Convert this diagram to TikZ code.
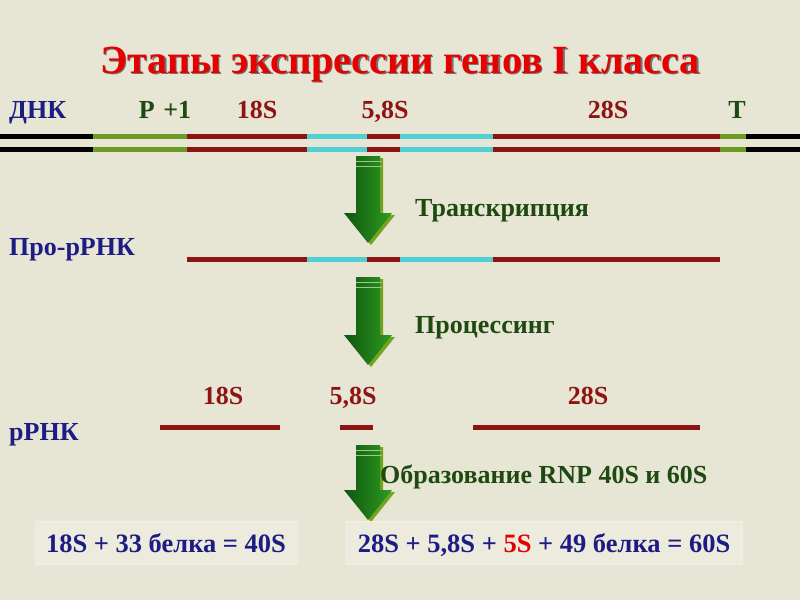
\documentclass[tikz,border=0pt]{standalone}
\usepackage{fontspec}
\setmainfont{Liberation Serif}
\definecolor{bg}{HTML}{E7E5D3}
\definecolor{boxbg}{HTML}{ECEBDD}
\definecolor{titlered}{HTML}{E60000}
\definecolor{navy}{HTML}{1C1C84}
\definecolor{dkred}{HTML}{8E1414}
\definecolor{dnagreen}{HTML}{6E9A26}
\definecolor{dnacyan}{HTML}{52CFD2}
\definecolor{lblgreen}{HTML}{1E4A12}
\definecolor{arrdark}{HTML}{0E560E}
\definecolor{arrlight}{HTML}{2F9C22}
\definecolor{arrshadow}{HTML}{74A41E}
\tikzset{
  lbl/.style={font=\bfseries\fontsize{26}{28}\selectfont, inner sep=0pt},
  blue lbl/.style={lbl, text=navy},
  red lbl/.style={lbl, text=dkred},
  green lbl/.style={lbl, text=lblgreen},
  seg/.style={line width=5pt},
  eqbox/.style={draw=boxbg!80!white, fill=boxbg, line width=1pt, minimum height=43pt, inner sep=0pt},
  eqtext/.style={font=\bfseries\fontsize{26.5}{28}\selectfont, text=navy, inner sep=0pt, anchor=base},
}
\newcommand\garrow[3]{%
  \fill[arrshadow] (#1+3,#2+2) -- (#1+15,#2+2) -- (#1+15,#3-28) -- (#1+27,#3-28) -- (#1+3,#3+2) -- (#1-21,#3-28) -- (#1-9,#3-28) -- cycle;
  \shade[left color=arrdark, right color=arrlight] (#1-12,#2) -- (#1+12,#2) -- (#1+12,#3-30) -- (#1+24,#3-30) -- (#1,#3) -- (#1-24,#3-30) -- (#1-12,#3-30) -- cycle;
  \draw[bg!60!arrlight, line width=1pt] (#1-12,#2+5) -- (#1+14,#2+5) (#1-12,#2+10) -- (#1+14,#2+10);
}
\begin{document}
\begin{tikzpicture}[x=1pt,y=-1pt]
\useasboundingbox (0,0) rectangle (800,600);
\fill[bg] (0,0) rectangle (800,600);
% title
\node[font=\bfseries\fontsize{40}{44}\selectfont, text=black!55, inner sep=0pt, anchor=base] at (401.5,74.5) {Этапы экспрессии генов I класса};
\node[font=\bfseries\fontsize{40}{44}\selectfont, text=titlered, inner sep=0pt, anchor=base] (title) at (400,73) {Этапы экспрессии генов I класса};
% DNA labels
\node[blue lbl, anchor=base west] (dnk) at (9,118) {ДНК};
\node[green lbl, anchor=base] (p1) at (165,118) {P\,\,+1};
\node[red lbl, anchor=base] (l18) at (257,118) {18S};
\node[red lbl, anchor=base] (l58) at (385,118) {5,8S};
\node[red lbl, anchor=base] (l28) at (608,118) {28S};
\node[green lbl, anchor=base] (lt) at (737,118) {T};
% DNA strands
\foreach \yy in {136,149}{
  \draw[seg, black] (0,\yy) -- (93,\yy);
  \draw[seg, dnagreen] (93,\yy) -- (187,\yy);
  \draw[seg, dkred] (187,\yy) -- (307,\yy);
  \draw[seg, dnacyan] (307,\yy) -- (367,\yy);
  \draw[seg, dkred] (367,\yy) -- (400,\yy);
  \draw[seg, dnacyan] (400,\yy) -- (493,\yy);
  \draw[seg, dkred] (493,\yy) -- (720,\yy);
  \draw[seg, dnagreen] (720,\yy) -- (746,\yy);
  \draw[seg, black] (746,\yy) -- (800,\yy);
}
% arrow 1
\garrow{368}{156}{243}
\node[green lbl, anchor=base west] (tr) at (415,216) {Транскрипция};
% pro-rRNA
\node[blue lbl, anchor=base west] (pro) at (9,255) {Про-рРНК};
\draw[seg, dkred] (187,259) -- (307,259);
\draw[seg, dnacyan] (307,259) -- (367,259);
\draw[seg, dkred] (367,259) -- (400,259);
\draw[seg, dnacyan] (400,259) -- (493,259);
\draw[seg, dkred] (493,259) -- (720,259);
% arrow 2
\garrow{368}{277}{365}
\node[green lbl, anchor=base west] (proc) at (415,333) {Процессинг};
% rRNA
\node[red lbl, anchor=base] (m18) at (223,404) {18S};
\node[red lbl, anchor=base] (m58) at (353,404) {5,8S};
\node[red lbl, anchor=base] (m28) at (588,404) {28S};
\node[blue lbl, anchor=base west] (rrna) at (9,440) {рРНК};
\draw[seg, dkred] (160,427) -- (280,427);
\draw[seg, dkred] (340,427) -- (373,427);
\draw[seg, dkred] (473,427) -- (700,427);
% arrow 3
\garrow{368}{445}{520}
\node[green lbl, anchor=base west] (rnp) at (380,483) {Образование RNP 40S и 60S};
% boxes
\node[eqbox, minimum width=262pt] (b1) at (166,543) {};
\node[eqbox, minimum width=396pt] (b2) at (544,543) {};
\node[eqtext] (t1) at (166,552) {18S + 33 белка = 40S};
\node[eqtext] (t2) at (544,552) {28S + 5,8S + \textcolor{titlered}{5S} + 49 белка = 60S};
\end{tikzpicture}
\end{document}
